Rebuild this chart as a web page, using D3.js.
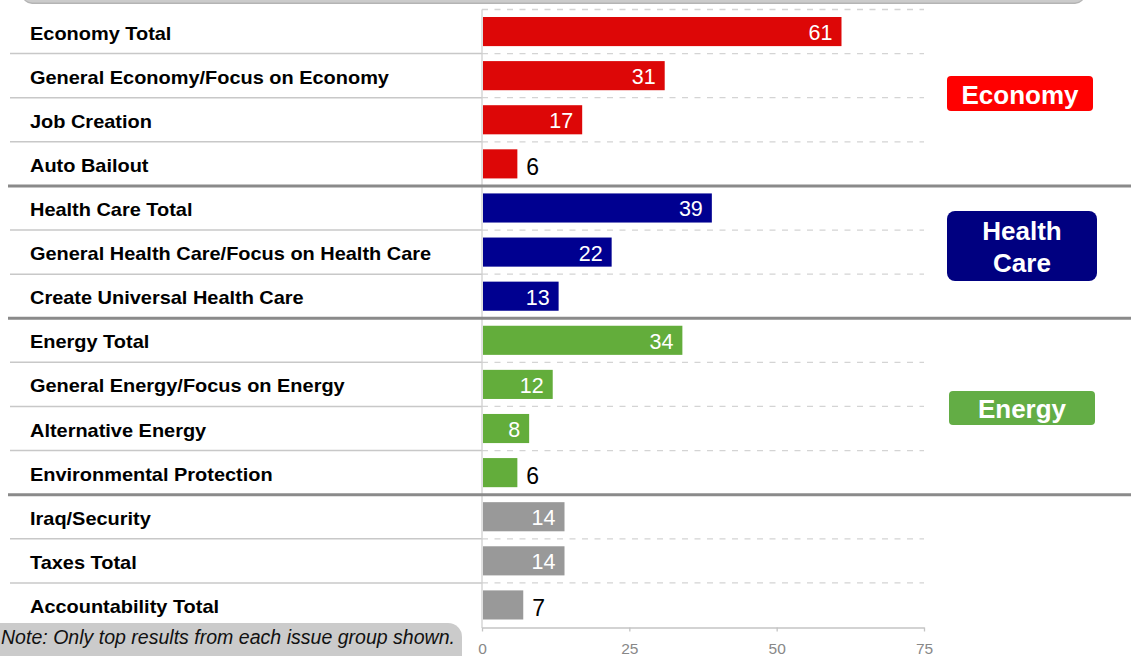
<!DOCTYPE html>
<html>
<head>
<meta charset="utf-8">
<script src="https://cdn.jsdelivr.net/npm/d3@7/dist/d3.min.js"></script>
<style>
  html, body { margin: 0; padding: 0; background: #fff; overflow: hidden; }
  svg { display: block; font-family: "Liberation Sans", Arial, sans-serif; }
</style>
</head>
<body>
<svg id="chart" width="1131" height="656"></svg>
<script>
// ---- data ----
const categories = [
  "Economy Total",
  "General Economy/Focus on Economy",
  "Job Creation",
  "Auto Bailout",
  "Health Care Total",
  "General Health Care/Focus on Health Care",
  "Create Universal Health Care",
  "Energy Total",
  "General Energy/Focus on Energy",
  "Alternative Energy",
  "Environmental Protection",
  "Iraq/Security",
  "Taxes Total",
  "Accountability Total"
];
const values = [61, 31, 17, 6, 39, 22, 13, 34, 12, 8, 6, 14, 14, 7];
const groupOf = ["Economy","Economy","Economy","Economy",
  "Health Care","Health Care","Health Care",
  "Energy","Energy","Energy","Energy",
  "Other","Other","Other"];
const groupNames = ["Economy", "Health Care", "Energy", "Other"];
const legendLines = [["Economy"], ["Health", "Care"], ["Energy"]];
const xTicks = [0, 25, 50, 75];
const noteText = "Note: Only top results from each issue group shown.";

// ---- styles ----
const barColor = d3.scaleOrdinal().domain(groupNames)
  .range(["#dd0707", "#000090", "#63ad3b", "#999999"]);
const legendColor = d3.scaleOrdinal().domain(groupNames)
  .range(["#ff0000", "#000080", "#63ad45", "#999999"]);

const svg = d3.select("#chart");

const x = d3.scaleLinear().domain([0, 75]).range([482, 924]);
const y = d3.scaleBand().domain(categories).range([9.5, 627])
  .paddingInner(0.34).paddingOuter(0.17);
const step = y.step();
const y0 = 9.5;

// top cut-off grey box
svg.append("rect").attr("x", 22).attr("y", -40).attr("width", 1063).attr("height", 44)
  .attr("rx", 10).attr("fill", "#b4b4b4");
svg.append("rect").attr("x", 22).attr("y", -40).attr("width", 1063).attr("height", 42.5)
  .attr("rx", 10).attr("fill", "#cbcbcb");

// boundaries
const boundaries = d3.range(0, categories.length); // boundary above row k
const isGroupBoundary = k => k > 0 && groupOf[k] !== groupOf[k - 1];

// dashed gridlines in bar area
svg.append("g").selectAll("line")
  .data(boundaries.filter(k => !isGroupBoundary(k)))
  .join("line")
  .attr("x1", x(0)).attr("x2", x(75))
  .attr("y1", k => y0 + k * step).attr("y2", k => y0 + k * step)
  .attr("stroke", "#d4d4d4").attr("stroke-width", 1.3)
  .attr("stroke-dasharray", "6,6.5");

// solid separators in label area
svg.append("g").selectAll("line")
  .data(boundaries.filter(k => k > 0 && !isGroupBoundary(k)))
  .join("line")
  .attr("x1", 10).attr("x2", x(0))
  .attr("y1", k => y0 + k * step).attr("y2", k => y0 + k * step)
  .attr("stroke", "#c8c8c8").attr("stroke-width", 1.5);

// vertical axis line
svg.append("line").attr("x1", x(0)).attr("x2", x(0))
  .attr("y1", y0).attr("y2", 628)
  .attr("stroke", "#d0d0d0").attr("stroke-width", 1.3);

// bars
svg.append("g").selectAll("rect")
  .data(categories)
  .join("rect")
  .attr("x", x(0) + 1)
  .attr("y", d => y(d))
  .attr("width", (d, i) => x(values[i]) - x(0) - 1)
  .attr("height", y.bandwidth())
  .attr("fill", (d, i) => barColor(groupOf[i]));

// group separators
svg.append("g").selectAll("line")
  .data(boundaries.filter(isGroupBoundary))
  .join("line")
  .attr("x1", 8).attr("x2", 1131)
  .attr("y1", k => y0 + k * step).attr("y2", k => y0 + k * step)
  .attr("stroke", "#8a8a8a").attr("stroke-width", 3);

// category labels
svg.append("g").selectAll("text")
  .data(categories)
  .join("text")
  .attr("x", 30)
  .attr("y", d => y(d) + y.bandwidth() / 2 + 8)
  .attr("font-size", 19)
  .attr("font-weight", "bold")
  .attr("fill", "#000")
  .attr("transform", "translate(30,0) scale(1.05,1) translate(-30,0)")
  .text(d => d);

// value labels
svg.append("g").selectAll("text")
  .data(categories)
  .join("text")
  .each(function (d, i) {
    const v = values[i];
    const t = d3.select(this);
    const cy = y(d) + y.bandwidth() / 2;
    if (v >= 8) {
      t.attr("x", x(v) - 9).attr("y", cy + 8.5)
        .attr("text-anchor", "end").attr("fill", "#fff")
        .attr("font-size", 21.5);
    } else {
      t.attr("x", x(v) + 9).attr("y", cy + 11.5)
        .attr("text-anchor", "start").attr("fill", "#000")
        .attr("font-size", 23);
    }
    t.text(v);
  });

// x axis
const xAxis = svg.append("g").attr("transform", "translate(0,627.5)")
  .call(d3.axisBottom(x).tickValues(xTicks).tickSize(4).tickPadding(11).tickSizeOuter(0));
xAxis.select(".domain").attr("stroke", "#c4c4c4").attr("stroke-width", 1.3);
xAxis.selectAll(".tick line").attr("stroke", "#c4c4c4").attr("stroke-width", 1.3);
xAxis.selectAll(".tick text").attr("fill", "#888").attr("font-size", 15.5)
  .attr("font-family", "'Liberation Sans', Arial, sans-serif");

// legend boxes
const legendBoxes = [
  { x: 947, y: 76, w: 146, h: 35 },
  { x: 947, y: 211, w: 150, h: 70 },
  { x: 949, y: 391, w: 146, h: 34 }
];
const legendBaselines = [[104], [240, 272], [417.5]];
legendLines.forEach((lines, gi) => {
  const b = legendBoxes[gi];
  svg.append("rect").attr("x", b.x).attr("y", b.y).attr("width", b.w).attr("height", b.h)
    .attr("rx", gi === 1 ? 8 : 4).attr("fill", legendColor(groupNames[gi]));
  lines.forEach((ln, li) => {
    svg.append("text").attr("x", b.x + b.w / 2).attr("y", legendBaselines[gi][li])
      .attr("text-anchor", "middle").attr("fill", "#fff")
      .attr("font-size", 26).attr("font-weight", "bold")
      .text(ln);
  });
});

// note box (bottom left, cut off)
svg.append("rect").attr("x", -30).attr("y", 623).attr("width", 492).attr("height", 80)
  .attr("rx", 14).attr("fill", "#cbcbcb");
svg.append("text").attr("x", 1).attr("y", 644)
  .attr("text-anchor", "start").attr("font-size", 20).attr("font-style", "italic")
  .attr("fill", "#111")
  .attr("textLength", 454).attr("lengthAdjust", "spacingAndGlyphs")
  .text(noteText);
</script>
</body>
</html>
